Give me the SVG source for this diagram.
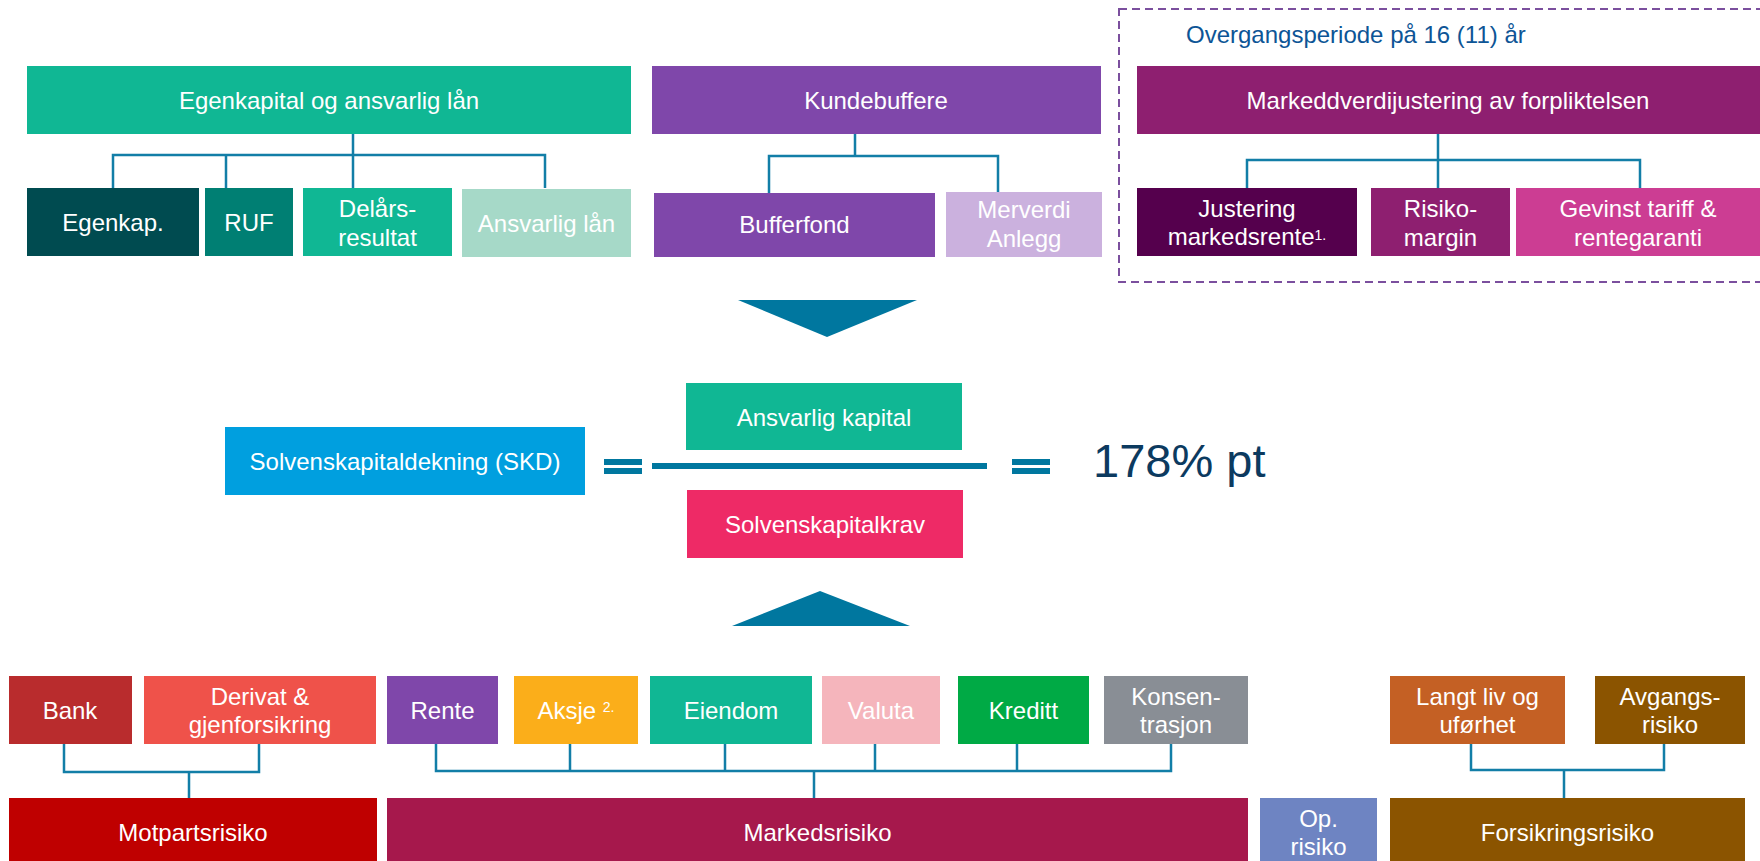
<svg xmlns="http://www.w3.org/2000/svg" width="1760" height="861" viewBox="0 0 1760 861">
<style>
text{font-family:"Liberation Sans",Arial,sans-serif;font-size:24px;fill:#ffffff;text-anchor:middle}
.sup{font-size:14px}
.con{fill:none;stroke:#127ea7;stroke-width:2.5}
.blue{fill:#00779f}
</style>
<rect width="1760" height="861" fill="#ffffff"/>
<g id="transition-frame">
<rect x="1119" y="9" width="660" height="273" fill="none" stroke="#7b4f9e" stroke-width="2" stroke-dasharray="8 5"/>
<text x="1186" y="43" style="text-anchor:start;fill:#0d5596">Overgangsperiode på 16 (11) år</text>
</g>
<g id="connectors">
<path class="con" d="M353 134V155M113 188V155H545V188M226 155V188M353 155V188"/>
<path class="con" d="M855 134V156M769 193V156H998V192"/>
<path class="con" d="M1438 134V160M1247 188V160H1640V188M1438 160V188"/>
<path class="con" d="M64 744V772H259V744M189 772V798"/>
<path class="con" d="M436 744V771H1171V744M570 744V771M725 744V771M875 744V771M1017 744V771M814 771V798"/>
<path class="con" d="M1471 744V770H1664V744M1564 770V798"/>
</g>
<g id="egenkapital"><rect x="27" y="66" width="604" height="68" fill="#10b794"/><text x="329" y="109">Egenkapital og ansvarlig lån</text></g>
<g id="kundebuffere"><rect x="652" y="66" width="449" height="68" fill="#7f47aa"/><text x="876" y="109">Kundebuffere</text></g>
<g id="markedsverdijustering"><rect x="1137" y="66" width="623" height="68" fill="#8e1f70"/><text x="1448" y="109">Markeddverdijustering av forpliktelsen</text></g>
<g id="egenkap"><rect x="27" y="188" width="172" height="68" fill="#004b50"/><text x="113" y="231">Egenkap.</text></g>
<g id="ruf"><rect x="205" y="188" width="88" height="68" fill="#007f73"/><text x="249" y="231">RUF</text></g>
<g id="delarsresultat"><rect x="303" y="188" width="149" height="68" fill="#10b794"/><text x="377.5" y="217">Delårs-</text><text x="377.5" y="246">resultat</text></g>
<g id="ansvarlig-lan"><rect x="462" y="189" width="169" height="68" fill="#a6d9c8"/><text x="546.5" y="232">Ansvarlig lån</text></g>
<g id="bufferfond"><rect x="654" y="193" width="281" height="64" fill="#7f47aa"/><text x="794.5" y="233">Bufferfond</text></g>
<g id="merverdi-anlegg"><rect x="946" y="192" width="156" height="65" fill="#cbb1de"/><text x="1024" y="218">Merverdi</text><text x="1024" y="247">Anlegg</text></g>
<g id="justering-markedsrente"><rect x="1137" y="188" width="220" height="68" fill="#55004d"/><text x="1247" y="217">Justering</text><text x="1247" y="245">markedsrente<tspan class="sup" dy="-5">1.</tspan></text></g>
<g id="risikomargin"><rect x="1371" y="188" width="139" height="68" fill="#8e1f70"/><text x="1440.5" y="217">Risiko-</text><text x="1440.5" y="246">margin</text></g>
<g id="gevinst"><rect x="1516" y="188" width="244" height="68" fill="#cc3d93"/><text x="1638" y="217">Gevinst tariff &amp;</text><text x="1638" y="246">rentegaranti</text></g>
<g id="arrow-down"><polygon class="blue" points="738,300 917,300 827,337"/></g>
<g id="skd"><rect x="225" y="427" width="360" height="68" fill="#009fdf"/><text x="405" y="470">Solvenskapitaldekning (SKD)</text></g>
<g id="formula">
<rect class="blue" x="604" y="459" width="38" height="6"/><rect class="blue" x="604" y="468" width="38" height="6"/>
<rect class="blue" x="652" y="463" width="335" height="6"/>
<rect class="blue" x="1012" y="459" width="38" height="6"/><rect class="blue" x="1012" y="468" width="38" height="6"/>
<text x="1093" y="477" style="text-anchor:start;font-size:47px;fill:#0c3a5f">178% pt</text>
</g>
<g id="ansvarlig-kapital"><rect x="686" y="383" width="276" height="67" fill="#10b794"/><text x="824" y="426">Ansvarlig kapital</text></g>
<g id="solvenskapitalkrav"><rect x="687" y="490" width="276" height="68" fill="#ee2a66"/><text x="825" y="533">Solvenskapitalkrav</text></g>
<g id="arrow-up"><polygon class="blue" points="732,626 910,626 820,591"/></g>
<g id="bank"><rect x="9" y="676" width="123" height="68" fill="#b92c2d"/><text x="70" y="719">Bank</text></g>
<g id="derivat"><rect x="144" y="676" width="232" height="68" fill="#ef524a"/><text x="260" y="705">Derivat &amp;</text><text x="260" y="733">gjenforsikring</text></g>
<g id="rente"><rect x="387" y="676" width="111" height="68" fill="#7f47aa"/><text x="442.5" y="719">Rente</text></g>
<g id="aksje"><rect x="514" y="676" width="124" height="68" fill="#fbae1a"/><text x="576" y="719">Aksje <tspan class="sup" dy="-7">2.</tspan></text></g>
<g id="eiendom"><rect x="650" y="676" width="162" height="68" fill="#10b794"/><text x="731" y="719">Eiendom</text></g>
<g id="valuta"><rect x="822" y="676" width="118" height="68" fill="#f5b5bc"/><text x="881" y="719">Valuta</text></g>
<g id="kreditt"><rect x="958" y="676" width="131" height="68" fill="#00aa45"/><text x="1023.5" y="719">Kreditt</text></g>
<g id="konsentrasjon"><rect x="1104" y="676" width="144" height="68" fill="#898e95"/><text x="1176" y="705">Konsen-</text><text x="1176" y="733">trasjon</text></g>
<g id="langt-liv"><rect x="1390" y="676" width="175" height="68" fill="#c46024"/><text x="1477.5" y="705">Langt liv og</text><text x="1477.5" y="733">uførhet</text></g>
<g id="avgangsrisiko"><rect x="1595" y="676" width="150" height="68" fill="#8b5400"/><text x="1670" y="705">Avgangs-</text><text x="1670" y="733">risiko</text></g>
<g id="motpartsrisiko"><rect x="9" y="798" width="368" height="68" fill="#bf0000"/><text x="193" y="841">Motpartsrisiko</text></g>
<g id="markedsrisiko"><rect x="387" y="798" width="861" height="68" fill="#a6184c"/><text x="817.5" y="841">Markedsrisiko</text></g>
<g id="op-risiko"><rect x="1260" y="798" width="117" height="68" fill="#6e84c2"/><text x="1318.5" y="827">Op.</text><text x="1318.5" y="855">risiko</text></g>
<g id="forsikringsrisiko"><rect x="1390" y="798" width="355" height="68" fill="#8b5400"/><text x="1567.5" y="841">Forsikringsrisiko</text></g>
</svg>
